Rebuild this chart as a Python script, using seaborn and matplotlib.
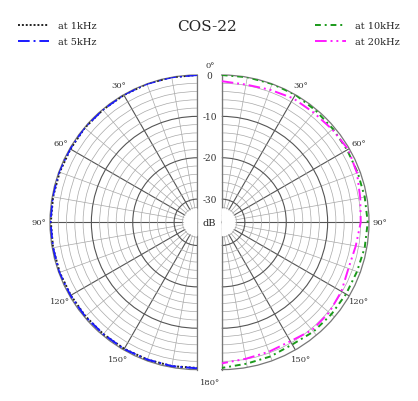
import numpy as np
import matplotlib.pyplot as plt
from matplotlib.transforms import offset_copy
import seaborn as sns

# angles (deg) and level (dB)
angles = [0, 10, 20, 30, 40, 50, 60, 70, 80, 90, 100, 110, 120, 130, 140, 150, 160, 170, 180]
db_1k = [0, 0, 0, -0.1, -0.1, -0.1, -0.2, -0.2, -0.2, -0.2, -0.2, -0.2, -0.3, -0.3, -0.3, -0.3, -0.3, -0.3, -0.4]
db_5k = [0, 0, 0, 0, -0.1, 0, -0.1, 0, -0.1, -0.1, -0.2, -0.1, -0.2, -0.2, -0.3, -0.2, -0.3, -0.3, -0.3]
db_10k = [0, 0, 0, 0, -0.3, -0.5, -0.6, -0.6, -0.5, -0.3, -0.5, -0.8, -0.9, -1.0, -1.1, -1.5, -1.1, -0.9, -0.4]
db_20k = [-1.5, -1.8, -1.5, -1.0, -1.0, -0.7, -0.3, -0.8, -1.6, -2.0, -2.7, -3.0, -2.2, -1.7, -1.6, -2.4, -2.3, -2.1, -1.5]

db_ticks = [0, -10, -20, -30]
angle_ticks = [30, 60, 90, 120, 150]

sns.set_style("white")
plt.rcParams['font.family'] = ['DejaVu Serif']

R_MIN = -35.6
fig = plt.figure(figsize=(4.18, 4.02), dpi=100)

# half-disc sits in the middle half of a square polar box
D = 294.6


def half_axes(x_edge, direction):
    rect = [(x_edge - D / 4) / 418, 1 - 370.6 / 402, D / 418, D / 402]
    ax = fig.add_axes(rect, projection='polar')
    ax.set_theta_zero_location('N')
    ax.set_theta_direction(direction)
    ax.set_thetamin(0)
    ax.set_thetamax(180)
    ax.set_xticks(np.deg2rad(np.arange(0, 181, 30)))
    ax.set_xticks(np.deg2rad(np.arange(0, 181, 10)), minor=True)
    ax.set_yticks([-30, -20, -10])
    ax.set_yticks(np.arange(-34, 0, 2), minor=True)
    ax.set_xticklabels([])
    ax.set_yticklabels([])
    ax.tick_params(which='both', length=0)
    ax.grid(True, which='major', color='#555555', lw=0.8)
    ax.grid(True, which='minor', color='#a8a8a8', lw=0.5)
    for s in ax.spines.values():
        s.set_color('#777777')
        s.set_linewidth(0.9)
    # white hole round the centre
    ax.bar(np.pi / 2, 3.2, width=np.pi, bottom=R_MIN, color='white', zorder=2.6)
    return ax


ax_l = half_axes(50, 1)
ax_r = half_axes(221.7, -1)

theta = np.deg2rad(angles)
styles = [
    (ax_l, db_1k, 'at 1kHz', '#222222', (0, (1, 1))),
    (ax_l, db_5k, 'at 5kHz', '#1a1aff', (0, (6, 2, 1, 2))),
    (ax_r, db_10k, 'at 10kHz', '#1a9a1a', (0, (3, 2, 1, 2))),
    (ax_r, db_20k, 'at 20kHz', '#ff1aff', (0, (6, 2, 1, 2, 1, 2))),
]
handles = []
for ax, vals, lab, col, ls in styles:
    sns.lineplot(x=theta, y=vals, ax=ax, sort=False, color=col, linestyle=ls,
                 lw=1.4, zorder=3, legend=False)
    line = ax.lines[-1]
    line.set_label(lab)
    handles.append(line)

for ax in (ax_l, ax_r):
    ax.set_ylim(R_MIN, 0)
    ax.set_xlabel('')
    ax.set_ylabel('')
    for a in angle_ticks:
        ax.text(np.deg2rad(a), 2.6, f"{a}\u00b0", ha='center', va='center',
                fontsize=6, color='#333333', clip_on=False)

# labels in the gap between the halves
gap = offset_copy(ax_r.transData, fig=fig, x=-12, y=0, units='dots')
for v in db_ticks:
    ax_r.text(0, v, f"{v}", transform=gap, ha='center', va='center',
              fontsize=6.5, color='#333333', clip_on=False)
ax_r.text(0, R_MIN, "dB", transform=gap, ha='center', va='center',
          fontsize=7, color='#222222', clip_on=False)
ax_r.text(0, 2.4, "0\u00b0", transform=gap, ha='center', va='center',
          fontsize=6, color='#333333', clip_on=False)
ax_r.text(np.pi, 3.0, "180\u00b0", transform=gap, ha='center', va='center',
          fontsize=6, color='#333333', clip_on=False)

fig.text(206.7 / 418, 1 - 27 / 402, "COS-22", ha='center', va='center', fontsize=11)

leg_kw = dict(frameon=False, fontsize=7, handlelength=3.2, handletextpad=0.9,
              labelspacing=0.75, borderaxespad=0, borderpad=0)
fig.legend(handles=handles[:2], loc='upper left', bbox_to_anchor=(18 / 418, 1 - 22 / 402), **leg_kw)
fig.legend(handles=handles[2:], loc='upper left', bbox_to_anchor=(315 / 418, 1 - 22 / 402), **leg_kw)

plt.savefig("out.png", dpi=100)
plt.close()
